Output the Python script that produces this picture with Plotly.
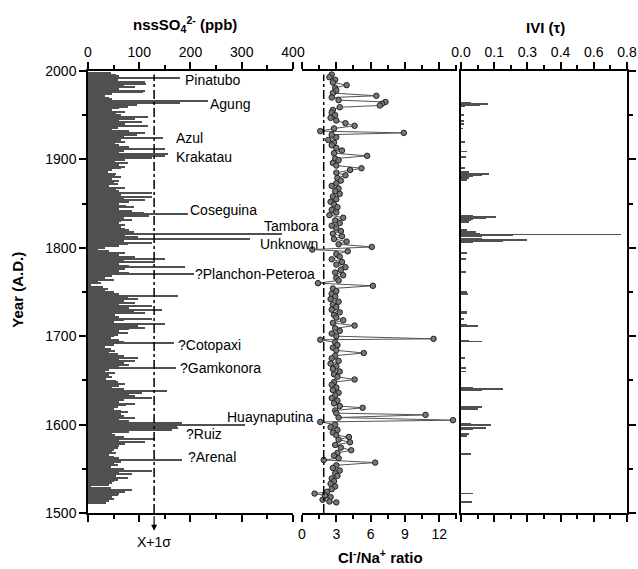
import plotly.graph_objects as go

# ---------------- data ----------------
so4_years = list(range(1998, 1510, -2))
so4_values = [
    45, 55, 60, 180, 59,
    111, 114, 70, 92, 60,
    111, 108, 46, 33, 40,
    46, 234, 180, 95, 78,
    60, 46, 72, 55, 65,
    118, 92, 60, 105, 72,
    118, 59, 46, 80, 111,
    95, 70, 147, 65, 72,
    52, 60, 80, 150, 70,
    60, 157, 150, 124, 72,
    52, 78, 60, 72, 65,
    46, 39, 55, 52, 65,
    46, 60, 50, 59, 40,
    72, 55, 60, 124, 65,
    124, 70, 111, 80, 60,
    75, 90, 60, 85, 110,
    195, 120, 70, 85, 65,
    60, 72, 65, 72, 80,
    90, 379, 72, 98, 317,
    70, 124, 78, 60, 33,
    20, 40, 72, 60, 92,
    150, 70, 130, 60, 80,
    190, 72, 60, 80, 206,
    46, 33, 50, 20, 25,
    5, 30, 39, 33, 50,
    60, 176, 78, 98, 70,
    92, 60, 124, 80, 144,
    90, 111, 52, 60, 124,
    70, 50, 150, 98, 111,
    80, 60, 78, 59, 50,
    45, 60, 70, 168, 50,
    33, 45, 52, 40, 59,
    70, 98, 60, 92, 70,
    80, 60, 172, 40, 33,
    52, 40, 46, 35, 55,
    59, 72, 60, 46, 70,
    154, 105, 80, 92, 124,
    70, 60, 92, 75, 59,
    50, 65, 78, 65, 70,
    92, 60, 80, 183, 307,
    173, 175, 163, 80, 46,
    52, 70, 130, 60, 111,
    72, 60, 59, 50, 46,
    55, 40, 50, 60, 183,
    65, 50, 59, 45, 70,
    124, 60, 85, 55, 78,
    59, 50, 46, 40, 5,
    45, 85, 72, 60, 59,
    46, 50, 40, 35,
]

clna_years = [
    1996, 1993, 1990, 1987, 1984, 1981, 1978, 1975, 1972, 1970,
    1967, 1965, 1963, 1961, 1959, 1956, 1953, 1950, 1947, 1944,
    1941, 1938, 1935, 1932, 1930, 1928, 1925, 1922, 1919, 1916,
    1913, 1910, 1907, 1904, 1901, 1899, 1896, 1893, 1890, 1888,
    1885, 1882, 1879, 1876, 1873, 1870, 1867, 1864, 1861, 1858,
    1855, 1852, 1849, 1846, 1843, 1840, 1837, 1834, 1831, 1828,
    1825, 1822, 1819, 1816, 1813, 1810, 1807, 1804, 1801, 1798,
    1796, 1793, 1790, 1787, 1784, 1781, 1778, 1775, 1772, 1769,
    1766, 1763, 1760, 1757, 1754, 1751, 1748, 1745, 1742, 1739,
    1736, 1733, 1730, 1727, 1724, 1721, 1718, 1715, 1712, 1709,
    1706, 1703, 1700, 1697, 1696, 1693, 1690, 1687, 1684, 1681,
    1678, 1675, 1672, 1669, 1666, 1663, 1660, 1657, 1654, 1651,
    1648, 1645, 1642, 1639, 1636, 1633, 1630, 1627, 1624, 1621,
    1619, 1616, 1613, 1611, 1608, 1605, 1603, 1600, 1597, 1594,
    1591, 1588, 1586, 1583, 1580, 1577, 1574, 1571, 1568, 1565,
    1562, 1560, 1557, 1554, 1551, 1548, 1545, 1542, 1539, 1536,
    1533, 1530, 1527, 1524, 1522, 1520, 1518, 1515, 1513, 1512,
]
clna_values = [
    2.6, 2.4, 2.9, 2.7, 3.9, 2.9, 3.0, 2.7, 6.5, 2.6,
    3.2, 7.3, 7.0, 6.8, 3.3, 2.7, 2.6, 2.9, 2.5, 3.0,
    3.8, 4.6, 2.8, 1.6, 8.9, 2.6, 3.0, 2.3, 2.8, 2.6,
    3.0, 3.5, 2.8, 5.7, 2.9, 3.2, 2.7, 3.0, 5.2, 4.2,
    3.0, 3.8, 3.1, 3.4, 3.0, 2.6, 3.2, 2.9, 3.3, 2.7,
    3.0, 2.5, 2.8, 3.1, 2.6, 3.0, 2.4, 3.6, 2.9, 3.3,
    2.6, 3.0, 3.4, 2.7, 3.5, 2.8, 3.9, 3.2, 6.1, 0.9,
    4.0, 3.0, 3.3, 2.6, 3.5, 3.0, 3.8, 3.4, 2.9, 3.6,
    3.0, 3.2, 1.4, 6.2, 2.7, 3.0, 2.6, 2.9, 2.5, 3.2,
    2.7, 3.0, 2.6, 3.3, 2.8, 3.0, 3.6, 2.7, 4.6, 2.9,
    3.3, 2.6, 3.0, 11.5, 1.6, 2.9, 3.1, 2.7, 3.0, 5.4,
    2.9, 2.6, 3.2, 2.5, 3.0, 2.7, 3.3, 2.8, 3.1, 4.6,
    2.8, 2.6, 3.0, 2.7, 3.2, 2.9, 2.6, 3.1, 2.8, 3.3,
    5.3, 2.9, 3.0, 10.8, 3.2, 13.2, 1.6, 2.9, 2.5, 3.1,
    2.7, 3.0, 4.1, 3.2, 4.2, 2.9, 3.4, 4.3, 3.1, 2.8,
    3.2, 1.9, 6.4, 3.0, 2.7, 3.3, 2.9, 3.1, 2.6, 2.8,
    2.5, 2.9, 2.6, 2.2, 1.1, 2.0, 2.5, 1.8, 2.4, 3.0,
]

vi_years = [
    1964, 1963, 1962, 1961, 1960, 1950, 1943, 1940, 1935, 1920,
    1909, 1903, 1890, 1886, 1884, 1883, 1882, 1881, 1879, 1877,
    1836, 1835, 1834, 1833, 1831, 1829, 1820, 1818, 1816, 1815,
    1814, 1813, 1810, 1809, 1808, 1807, 1794, 1787, 1773, 1750,
    1748, 1728, 1726, 1719, 1713, 1712, 1695, 1694, 1675, 1664,
    1660, 1641, 1640, 1639, 1620, 1618, 1601, 1600, 1599, 1596,
    1595, 1589, 1587, 1567, 1522, 1512,
]
vi_values = [
    0.05, 0.128, 0.09, 0.04, 0.02, 0.016, 0.015, 0.015, 0.012, 0.02,
    0.03, 0.025, 0.02, 0.04, 0.07, 0.136, 0.10, 0.06, 0.04, 0.03,
    0.06, 0.168, 0.12, 0.06, 0.05, 0.04, 0.03, 0.07, 0.09, 0.77,
    0.25, 0.10, 0.10, 0.32, 0.20, 0.06, 0.03, 0.025, 0.025, 0.03,
    0.035, 0.03, 0.03, 0.015, 0.03, 0.08, 0.04, 0.10, 0.02, 0.025,
    0.025, 0.06, 0.20, 0.10, 0.10, 0.08, 0.05, 0.145, 0.09, 0.12,
    0.06, 0.04, 0.03, 0.05, 0.056, 0.053,
]

so4_threshold = 129      # X + 1 sigma (ppb)
clna_threshold = 1.9     # seawater ratio line
threshold_top = 1996

volcano_names = ["Pinatubo", "Agung", "Azul", "Krakatau", "Coseguina", "Tambora",
                 "Unknown", "?Planchon-Peteroa", "?Cotopaxi", "?Gamkonora",
                 "Huaynaputina", "?Ruiz", "?Arenal"]
volcano_label_years = [1990, 1963, 1924, 1903, 1843, 1825, 1804, 1770, 1690, 1664,
                       1609, 1589, 1563]
# label placement (ppb units on the nssSO4 axis)
volcano_label_x = [185, 234, 168, 168, 195, 340, 332, 205, 172, 176, 267, 187, 191]

so4_ticks = [0, 100, 200, 300, 400]
clna_ticks = [0, 3, 6, 9, 12]
vi_tickvals = [0, 0.16, 0.32, 0.48, 0.64, 0.8]
vi_ticktext = ["0.0", "0.1", "0.3", "0.4", "0.6", "0.8"]
vi_minor = [0.08, 0.24, 0.40, 0.56, 0.72]
year_ticks = [1500, 1600, 1700, 1800, 1900, 2000]

# ---------------- figure ----------------
FONT = "Arial, Liberation Sans, Helvetica, sans-serif"
BAR = "#505050"

fig = go.Figure()
fig.add_trace(go.Bar(y=so4_years, x=so4_values, orientation="h", width=1.5,
                     marker=dict(color=BAR, line=dict(width=0)),
                     xaxis="x", yaxis="y", showlegend=False))
fig.add_trace(go.Scatter(x=clna_values, y=clna_years, mode="lines+markers",
                         line=dict(color="#555555", width=1),
                         marker=dict(size=5.5, color="#777777",
                                     line=dict(color="#222222", width=1)),
                         xaxis="x2", yaxis="y", showlegend=False))
fig.add_trace(go.Bar(y=vi_years, x=vi_values, orientation="h", width=1,
                     marker=dict(color=BAR, line=dict(width=0)),
                     xaxis="x3", yaxis="y2", showlegend=False))

common = dict(showgrid=False, zeroline=False, showline=True, linecolor="black",
              linewidth=1.5, ticks="outside", tickcolor="black", tickwidth=1.5,
              ticklen=7, automargin=False,
              tickfont=dict(size=14, color="black", family=FONT))
minor_style = dict(ticks="outside", ticklen=4, tickcolor="black", tickwidth=1.5, showgrid=False)

fig.update_layout(
    width=638, height=569, autosize=False,
    margin=dict(l=88, r=11, t=71, b=56),
    plot_bgcolor="white", paper_bgcolor="white",
    font=dict(family=FONT, size=14, color="black"),
    bargap=0,
    xaxis=dict(domain=[0, 0.3803], range=[0, 400], side="top", anchor="y",
               tickvals=so4_ticks, mirror="ticks",
               minor=dict(dtick=50, **minor_style), **common),
    xaxis2=dict(domain=[0.397, 0.6846], range=[0, 13.55], side="bottom", anchor="y",
                tickvals=clna_ticks, mirror="ticks",
                minor=dict(dtick=1.5, tick0=0, **minor_style), **common),
    xaxis3=dict(domain=[0.692, 1.0], range=[0, 0.8], side="top", anchor="y2",
                tickvals=vi_tickvals, ticktext=vi_ticktext, mirror="ticks",
                minor=dict(tickvals=vi_minor, **minor_style), **common),
    yaxis=dict(domain=[0, 1], range=[1500, 2000], anchor="x", side="left",
               tickvals=year_ticks,
               minor=dict(dtick=50, tick0=1500, **minor_style), **common),
    yaxis2=dict(domain=[0, 1], range=[1500, 2000], anchor="x3", side="right",
                mirror=True, showticklabels=False, tickvals=year_ticks,
                minor=dict(dtick=50, tick0=1500, **minor_style), **common),
)

# threshold lines
fig.add_shape(type="line", xref="x", yref="y", x0=so4_threshold, x1=so4_threshold,
              y0=1500, y1=threshold_top, line=dict(color="black", width=1.5, dash="dashdot"))
fig.add_shape(type="line", xref="x2", yref="y", x0=clna_threshold, x1=clna_threshold,
              y0=1500, y1=threshold_top, line=dict(color="black", width=1.5, dash="dashdot"))

annotations = []
for name, yr, xl in zip(volcano_names, volcano_label_years, volcano_label_x):
    annotations.append(dict(x=xl, y=yr, xref="x", yref="y", text=name, showarrow=False,
                            xanchor="left", yanchor="middle",
                            font=dict(size=14, color="black", family=FONT)))

# arrow + X+1σ label below the left panel
annotations.append(dict(x=so4_threshold, y=-0.04, xref="x", yref="paper", text="",
                        showarrow=True, ax=0, ay=-16, arrowhead=2, arrowsize=1,
                        arrowwidth=1.2, arrowcolor="black"))
annotations.append(dict(x=so4_threshold, y=-0.066, xref="x", yref="paper", text="X+1σ",
                        showarrow=False, xanchor="center", yanchor="middle",
                        font=dict(size=14, color="black", family=FONT)))

# titles
annotations.append(dict(x=0.18, y=1.105, xref="paper", yref="paper",
                        text="<b>nssSO<sub>4</sub><sup>2-</sup> (ppb)</b>", showarrow=False,
                        xanchor="center", yanchor="middle",
                        font=dict(size=15, color="black", family=FONT)))
annotations.append(dict(x=0.848, y=1.098, xref="paper", yref="paper",
                        text="<b>IVI (τ)</b>", showarrow=False,
                        xanchor="center", yanchor="middle",
                        font=dict(size=15, color="black", family=FONT)))
annotations.append(dict(x=0.542, y=-0.098, xref="paper", yref="paper",
                        text="<b>Cl<sup>-</sup>/Na<sup>+</sup> ratio</b>", showarrow=False,
                        xanchor="center", yanchor="middle",
                        font=dict(size=15, color="black", family=FONT)))
annotations.append(dict(x=-0.13, y=0.505, xref="paper", yref="paper",
                        text="<b>Year (A.D.)</b>", showarrow=False, textangle=-90,
                        xanchor="center", yanchor="middle",
                        font=dict(size=15, color="black", family=FONT)))

fig.update_layout(annotations=annotations)

fig.write_html("out.html", config={"displayModeBar": False},
               post_script="document.body.style.margin='0px';document.body.style.overflow='hidden';")
